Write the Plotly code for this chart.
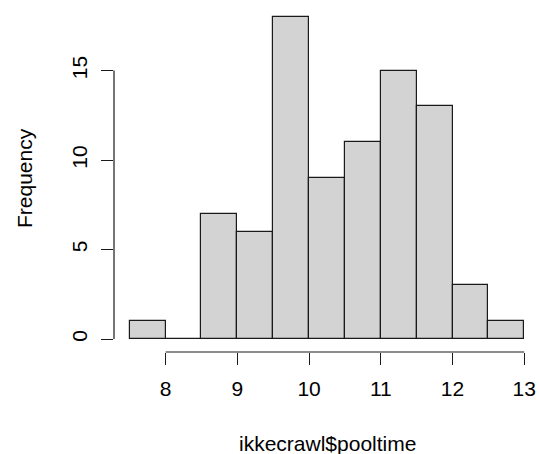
import plotly.graph_objects as go

breaks = [7.5, 8.0, 8.5, 9.0, 9.5, 10.0, 10.5, 11.0, 11.5, 12.0, 12.5, 13.0]
counts = [1, 0, 7, 6, 18, 9, 11, 15, 13, 3, 1]
x_ticks = [8, 9, 10, 11, 12, 13]
y_ticks = [0, 5, 10, 15]
x_title = "ikkecrawl$pooltime"
y_title = "Frequency"

mids = [(a + b) / 2 for a, b in zip(breaks[:-1], breaks[1:])]
widths = [b - a for a, b in zip(breaks[:-1], breaks[1:])]

FONT = "Liberation Sans, Arial, Helvetica, sans-serif"
FS = 21

fig = go.Figure(go.Bar(
    x=mids, y=counts, width=widths,
    marker=dict(color="#D3D3D3", line=dict(color="#1a1a1a", width=1.2)),
    hoverinfo="skip",
))

# R-style extended ranges (4%)
xr = breaks[-1] - breaks[0]
ymax = max(counts)
fig.update_layout(
    width=540, height=454,
    margin=dict(l=114, r=0, t=4, b=102),
    plot_bgcolor="white", paper_bgcolor="white",
    showlegend=False, bargap=0,
    font=dict(family=FONT, size=FS, color="black"),
    xaxis=dict(range=[breaks[0] - 0.04 * xr, breaks[-1] + 0.04 * xr],
               tickvals=x_ticks, ticktext=[str(v) for v in x_ticks],
               ticks="outside", ticklen=12, tickwidth=1, tickcolor="#1a1a1a",
               showline=False, showgrid=False, zeroline=False,
               ticklabelstandoff=6, tickfont=dict(size=FS)),
    yaxis=dict(range=[-0.04 * ymax, ymax * 1.04],
               tickvals=y_ticks, ticktext=[str(v) for v in y_ticks],
               ticks="outside", ticklen=12, tickwidth=1, tickcolor="#1a1a1a",
               tickangle=-90,
               showline=False, showgrid=False, zeroline=False,
               ticklabelstandoff=6, tickfont=dict(size=FS)),
    shapes=[
        dict(type="line", xref="x", yref="paper", x0=min(x_ticks), x1=max(x_ticks),
             y0=0, y1=0, line=dict(color="#1a1a1a", width=1.2)),
        dict(type="line", xref="paper", yref="y", x0=0, x1=0,
             y0=min(y_ticks), y1=max(y_ticks), line=dict(color="#1a1a1a", width=1.2)),
    ],
    annotations=[
        dict(text=x_title, xref="paper", yref="paper", x=0.5, y=-91 / 348,
             xanchor="center", yanchor="middle", showarrow=False,
             font=dict(size=FS)),
        dict(text=y_title, xref="paper", yref="paper", x=-90 / 426, y=0.5,
             xanchor="center", yanchor="middle", textangle=-90, showarrow=False,
             font=dict(size=FS)),
    ],
)

fig.write_html("out.html")
